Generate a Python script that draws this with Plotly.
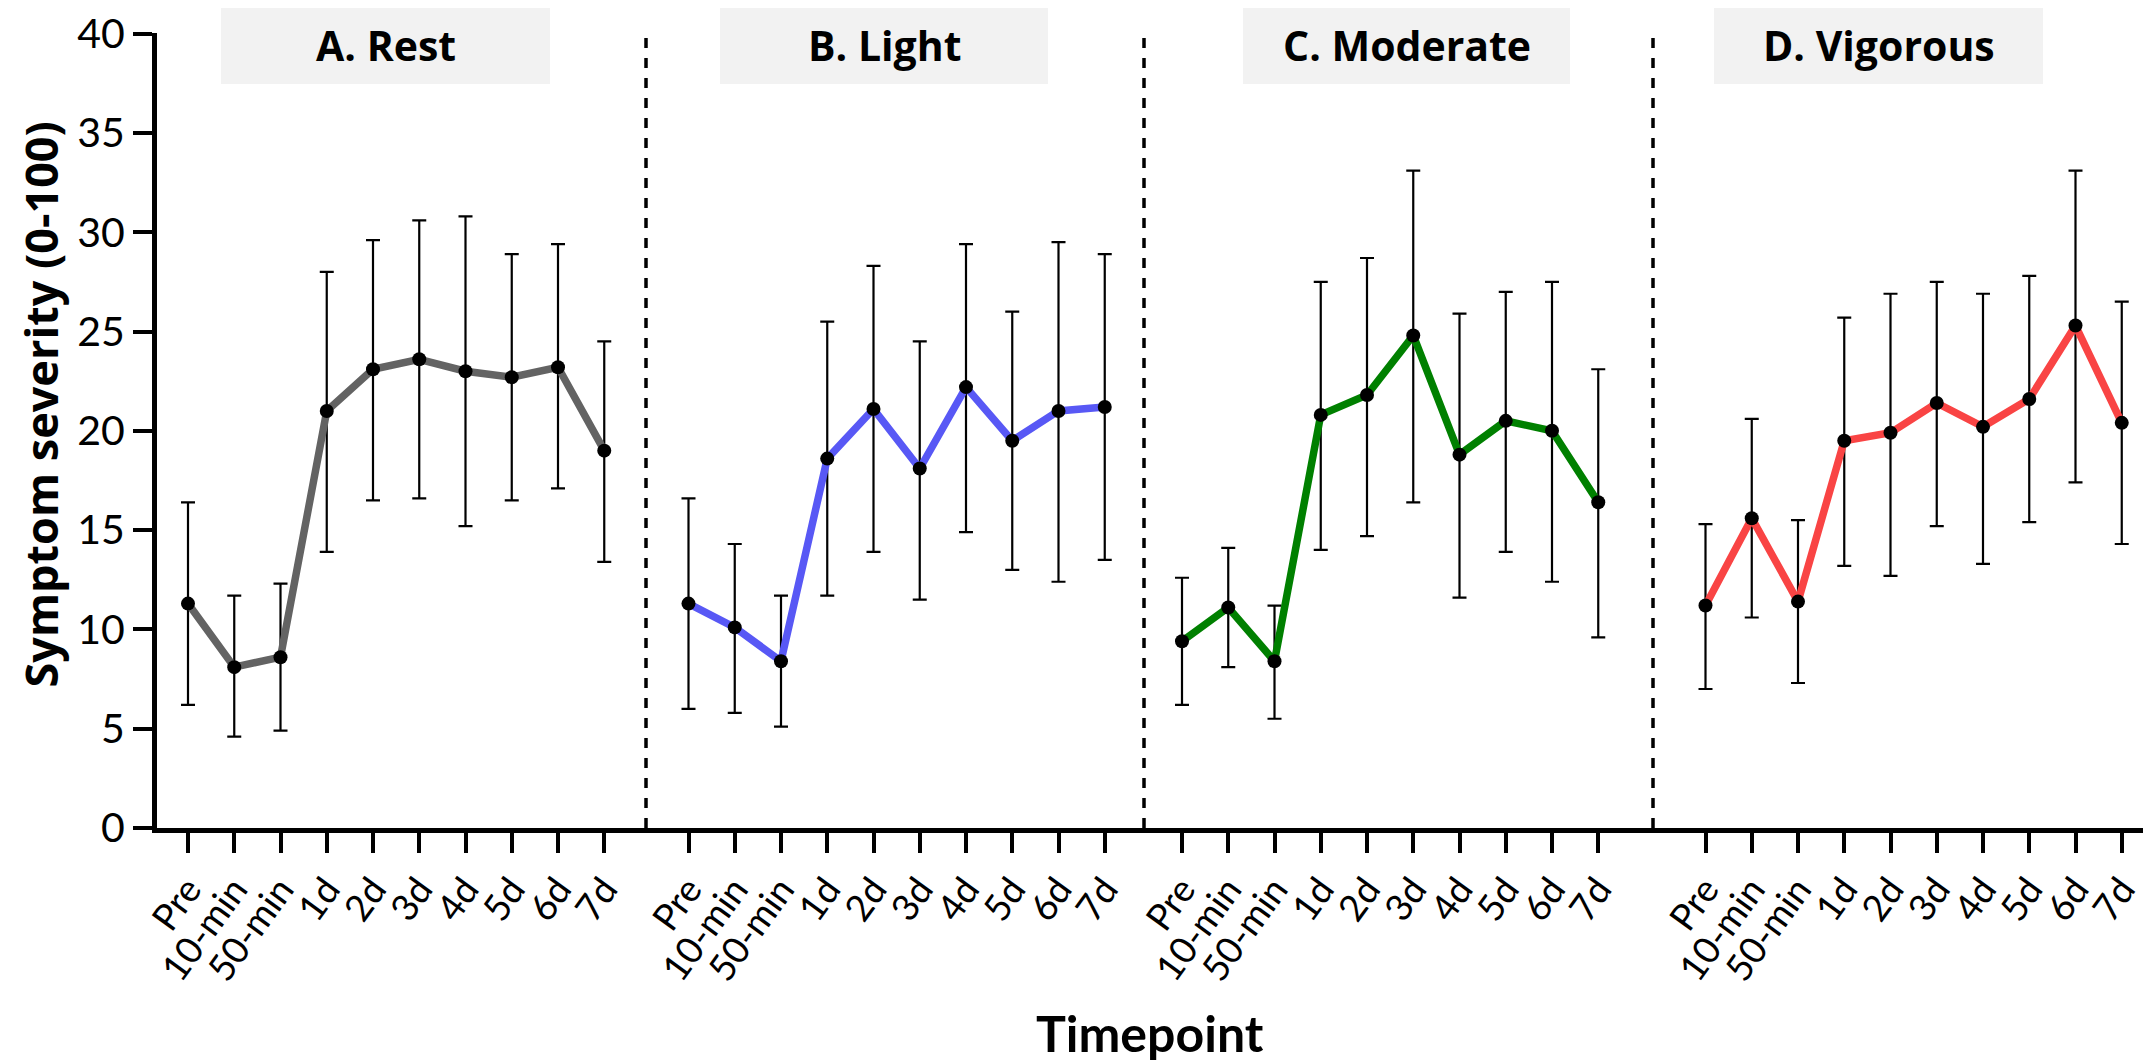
import plotly.graph_objects as go
from plotly.subplots import make_subplots

timepoints = ["Pre", "10-min", "50-min", "1d", "2d", "3d", "4d", "5d", "6d", "7d"]
panel_titles = ["A. Rest", "B. Light", "C. Moderate", "D. Vigorous"]
colors = ["#636363", "#5858f5", "#008000", "#f94444"]
y_ticks = [0, 5, 10, 15, 20, 25, 30, 35, 40]

rest_mean = [11.3, 8.1, 8.6, 21.0, 23.1, 23.6, 23.0, 22.7, 23.2, 19.0]
rest_upper = [16.4, 11.7, 12.3, 28.0, 29.6, 30.6, 30.8, 28.9, 29.4, 24.5]
rest_lower = [6.2, 4.6, 4.9, 13.9, 16.5, 16.6, 15.2, 16.5, 17.1, 13.4]

light_mean = [11.3, 10.1, 8.4, 18.6, 21.1, 18.1, 22.2, 19.5, 21.0, 21.2]
light_upper = [16.6, 14.3, 11.7, 25.5, 28.3, 24.5, 29.4, 26.0, 29.5, 28.9]
light_lower = [6.0, 5.8, 5.1, 11.7, 13.9, 11.5, 14.9, 13.0, 12.4, 13.5]

moderate_mean = [9.4, 11.1, 8.4, 20.8, 21.8, 24.8, 18.8, 20.5, 20.0, 16.4]
moderate_upper = [12.6, 14.1, 11.2, 27.5, 28.7, 33.1, 25.9, 27.0, 27.5, 23.1]
moderate_lower = [6.2, 8.1, 5.5, 14.0, 14.7, 16.4, 11.6, 13.9, 12.4, 9.6]

vigorous_mean = [11.2, 15.6, 11.4, 19.5, 19.9, 21.4, 20.2, 21.6, 25.3, 20.4]
vigorous_upper = [15.3, 20.6, 15.5, 25.7, 26.9, 27.5, 26.9, 27.8, 33.1, 26.5]
vigorous_lower = [7.0, 10.6, 7.3, 13.2, 12.7, 15.2, 13.3, 15.4, 17.4, 14.3]

means = [rest_mean, light_mean, moderate_mean, vigorous_mean]
uppers = [rest_upper, light_upper, moderate_upper, vigorous_upper]
lowers = [rest_lower, light_lower, moderate_lower, vigorous_lower]

# ---- layout geometry (pixels) ----
W, H = 2151, 1062
ML, MR, MT, MB = 149, 4, 25, 242
PW = W - ML - MR
PH = H - MT - MB
bounds_px = [149, 638, 1136, 1645, 2147]
first_tick_px = [180, 680.5, 1174, 1697.5]
step_px = 46.25
box_px = [(213, 542), (712, 1040), (1235, 1562), (1706, 2035)]

def px_to_paper_x(px):
    return (px - ML) / PW

def py_to_paper_y(py):
    return (H - MB - py) / PH

fig = make_subplots(rows=1, cols=4, shared_yaxes=True, horizontal_spacing=0)

for i in range(4):
    ups = [u - m for u, m in zip(uppers[i], means[i])]
    downs = [m - l for m, l in zip(means[i], lowers[i])]
    fig.add_trace(
        go.Scatter(
            x=timepoints,
            y=means[i],
            mode="lines+markers",
            line=dict(color=colors[i], width=7.5),
            marker=dict(color="black", size=14),
            error_y=dict(type="data", array=ups, arrayminus=downs,
                         color="black", thickness=2.2, width=7),
            showlegend=False,
        ),
        row=1, col=i + 1,
    )

tickfont = dict(family="Lato, Carlito, sans-serif", size=37, color="black")
for i in range(4):
    d0 = px_to_paper_x(bounds_px[i])
    d1 = px_to_paper_x(bounds_px[i + 1])
    left = (bounds_px[i] - first_tick_px[i]) / step_px
    right = (bounds_px[i + 1] - first_tick_px[i]) / step_px
    fig.update_xaxes(
        domain=[d0, d1], range=[left, right], automargin=False,
        type="category", categoryorder="array", categoryarray=timepoints,
        tickmode="array", tickvals=timepoints, ticktext=timepoints,
        showline=True, linecolor="black", linewidth=5,
        ticks="outside", ticklen=20, tickwidth=4, tickcolor="black",
        tickangle=-54, tickfont=tickfont, showgrid=False, zeroline=False,
        row=1, col=i + 1,
    )

fig.update_yaxes(range=[0, 40.03], showgrid=False, zeroline=False, automargin=False)
fig.update_yaxes(
    showline=True, linecolor="black", linewidth=5,
    ticks="outside", ticklen=19, tickwidth=4, tickcolor="black",
    tickmode="array", tickvals=y_ticks, ticktext=[str(v) for v in y_ticks],
    ticklabeloverflow="allow",
    tickfont=dict(family="Lato, Carlito, sans-serif", size=41, color="black"),
    row=1, col=1,
)
for c in (2, 3, 4):
    fig.update_yaxes(showline=False, showticklabels=False, ticks="", row=1, col=c)

shapes = []
for b in bounds_px[1:4]:
    x = px_to_paper_x(b)
    shapes.append(dict(type="line", xref="paper", yref="y", x0=x, x1=x, y0=0, y1=40,
                       line=dict(color="black", width=3.5, dash="10px,10px")))
for (x0, x1) in box_px:
    shapes.append(dict(type="rect", xref="paper", yref="paper",
                       x0=px_to_paper_x(x0), x1=px_to_paper_x(x1),
                       y0=py_to_paper_y(76), y1=py_to_paper_y(0),
                       fillcolor="#f2f2f2", line=dict(width=0), layer="below"))

annotations = []
for (x0, x1), t in zip(box_px, panel_titles):
    annotations.append(dict(
        text=t, xref="paper", yref="paper",
        x=px_to_paper_x((x0 + x1) / 2), y=py_to_paper_y(37),
        xanchor="center", yanchor="middle", showarrow=False,
        font=dict(family="Open Sans, sans-serif", size=41, color="black", weight="bold"),
    ))
annotations.append(dict(
    text="Timepoint", xref="paper", yref="paper",
    x=0.497, y=py_to_paper_y(1025), xanchor="center", yanchor="middle", showarrow=False,
    font=dict(family="Lato, Carlito, sans-serif", size=50, color="black", weight="bold"),
))
annotations.append(dict(
    text="Symptom severity (0-100)", xref="paper", yref="paper",
    x=px_to_paper_x(0), y=py_to_paper_y(397), xanchor="left", yanchor="middle",
    textangle=-90, showarrow=False, borderpad=0,
    font=dict(family="Open Sans, sans-serif", size=45, color="black", weight="bold"),
))

fig.update_layout(
    width=W, height=H,
    margin=dict(l=ML, r=MR, t=MT, b=MB),
    plot_bgcolor="white", paper_bgcolor="white",
    shapes=shapes, annotations=annotations,
    showlegend=False,
)

fig.write_html("out.html")
